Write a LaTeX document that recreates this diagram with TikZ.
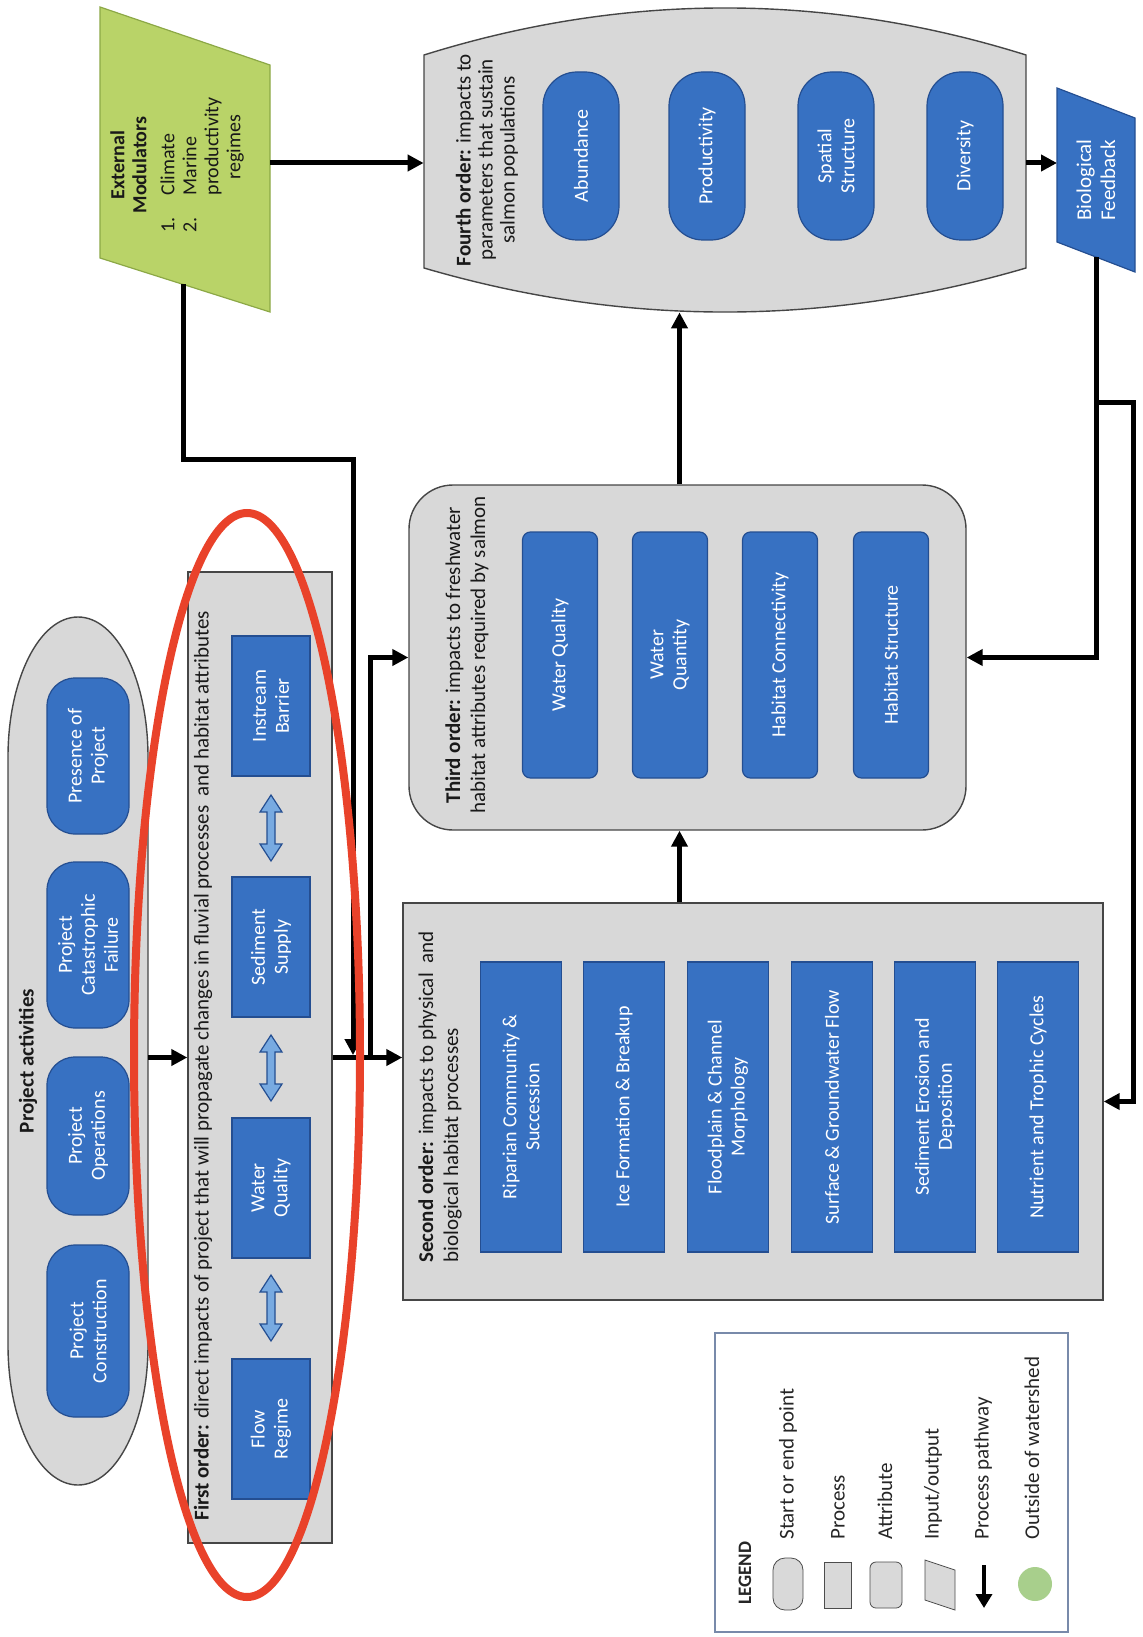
\documentclass[tikz,border=0pt]{standalone}
\usepackage{fontspec}
\setmainfont{Carlito}
\usetikzlibrary{arrows.meta}
\definecolor{boxblue}{RGB}{55,113,194}
\definecolor{boxedge}{RGB}{36,78,145}
\definecolor{contfill}{RGB}{216,216,216}
\definecolor{contedge}{RGB}{70,70,70}
\definecolor{emgreen}{RGB}{185,211,104}
\definecolor{emedge}{RGB}{140,168,70}
\definecolor{redmark}{RGB}{233,66,42}
\definecolor{dblfill}{RGB}{120,170,225}
\definecolor{legedge}{RGB}{120,138,170}
\definecolor{lgreen}{RGB}{168,207,140}
\newcommand\lbl{\fontsize{10}{11.5}\selectfont}
\newcommand\ttl{\fontsize{10.5}{12.5}\selectfont}
\begin{document}
\begin{tikzpicture}[x=0.5pt,y=-0.5pt,
  container/.style={draw=contedge, line width=0.7pt, fill=contfill},
  bluebase/.style={draw=boxedge, line width=0.6pt, fill=boxblue, text=white, rotate=90, align=center, font=\lbl, inner sep=1pt},
  procbox/.style={bluebase},
  startbox/.style={bluebase, rounded corners=14pt},
  attrbox/.style={bluebase, rounded corners=4pt},
  conn/.style={line width=2.5pt, draw=black, -{Triangle[length=8pt,width=8pt]}},
  ttlnode/.style={rotate=90, font=\ttl, inner sep=0pt, text=black!90},
  legtext/.style={rotate=90, font=\fontsize{10.5}{12}\selectfont, inner sep=0pt, anchor=west, text=black!85},
  dblarr/.pic={\draw[draw=boxedge, fill=dblfill, line width=0.6pt] (0,-33) -- (11,-16) -- (4,-16) -- (4,16) -- (11,16) -- (0,33) -- (-11,16) -- (-4,16) -- (-4,-16) -- (-11,-16) -- cycle;}
]
\useasboundingbox (0,0) rectangle (1142,1637);

% ---------- Project activities
\draw[container] (8,757) -- (8,1345) .. controls (8,1422) and (39,1485) .. (78,1485) .. controls (117,1485) and (148,1422) .. (148,1345) -- (148,757) .. controls (148,680) and (117,617) .. (78,617) .. controls (39,617) and (8,680) .. (8,757) -- cycle;
\node[minimum width=70pt, minimum height=434pt, inner sep=0pt] (pa) at (78,1051) {};
\node[ttlnode, font=\ttl\bfseries] (patitle) at (28,1061) {Project activities};
\node[startbox, minimum width=78pt, minimum height=41pt] (p1) at (88,756) {Presence of\\Project};
\node[startbox, minimum width=83pt, minimum height=41pt] (p2) at (88,945) {Project\\Catastrophic\\Failure};
\node[startbox, minimum width=79pt, minimum height=41pt] (p3) at (88,1136) {Project\\Operations};
\node[startbox, minimum width=86pt, minimum height=41pt] (p4) at (88,1331) {Project\\Construction};

% ---------- First order
\node[container, minimum width=72pt, minimum height=485.5pt] (fo) at (260,1057.5) {};
\node[ttlnode, anchor=west] (fotitle) at (203,1521) {\textbf{First order:} direct impacts of project that will propagate changes in fluvial processes\ \ and habitat attributes};
\node[procbox, minimum width=70pt, minimum height=39pt] (f1) at (271,706) {Instream\\Barrier};
\node[procbox, minimum width=70pt, minimum height=39pt] (f2) at (271,947) {Sediment\\Supply};
\node[procbox, minimum width=70pt, minimum height=39pt] (f3) at (271,1188) {Water\\Quality};
\node[procbox, minimum width=70pt, minimum height=39pt] (f4) at (271,1429) {Flow\\Regime};
\pic at (271,828) {dblarr};
\pic at (271,1068) {dblarr};
\pic at (271,1308) {dblarr};

% ---------- External modulators
\draw[draw=emedge, line width=0.6pt, fill=emgreen] (100,7) -- (270,65) -- (270,312) -- (100,258) -- cycle;
\node[rotate=90, font=\fontsize{10}{11}\selectfont, inner sep=0pt, text=black!90] (em) at (178,165) {\begin{tabular}{@{}r@{\hspace{11pt}}l@{}}\multicolumn{2}{@{}c@{}}{\bfseries External}\\ \multicolumn{2}{@{}c@{}}{\bfseries Modulators}\\[3pt] 1. & Climate\\ 2. & Marine\\ & productivity\\ & \hspace{8pt}regimes\end{tabular}};
\coordinate (emR) at (270,163);
\coordinate (emB) at (183,284);
\coordinate (bend) at (353,459);

% ---------- Fourth order
\draw[container] (424,55) .. controls (624,-7.7) and (826,-7.7) .. (1026,55) -- (1026,268) .. controls (826,326.7) and (624,326.7) .. (424,268) -- cycle;
\node[minimum width=301pt, minimum height=152pt, inner sep=0pt] (fourth) at (725,160) {};
\node[ttlnode, align=center, font=\fontsize{10.5}{11}\selectfont] (t4) at (487,160) {\textbf{Fourth order:} impacts to\\parameters that sustain\\salmon populations};
\node[startbox, rounded corners=17pt, minimum width=84pt, minimum height=38pt] (q1) at (581,156) {Abundance};
\node[startbox, rounded corners=17pt, minimum width=84pt, minimum height=38pt] (q2) at (707,156) {Productivity};
\node[startbox, rounded corners=17pt, minimum width=84pt, minimum height=38pt] (q3) at (836,156) {Spatial\\Structure};
\node[startbox, rounded corners=17pt, minimum width=84pt, minimum height=38pt] (q4) at (965,156) {Diversity};

% ---------- Biological feedback
\draw[draw=boxedge, line width=0.6pt, fill=boxblue] (1057,88) -- (1135,118) -- (1135,272) -- (1057,242) -- cycle;
\node[rotate=90, font=\fontsize{10.5}{12}\selectfont, text=white, align=center, inner sep=0pt] (bf) at (1096,180) {Biological\\Feedback};
\coordinate (bfL) at (1057,163);
\coordinate (bfB) at (1096,257);
\coordinate (fb) at (1096,402);
\coordinate (fbR) at (1133,402);

% ---------- Third order
\node[container, rounded corners=22pt, minimum width=278.5pt, minimum height=172.5pt] (third) at (687.5,657.5) {};
\node[ttlnode, align=center] (t3) at (467,655) {\textbf{Third order:} impacts to freshwater\\habitat attributes required by salmon};
\node[attrbox, minimum width=123pt, minimum height=37.5pt] (a1) at (560,655) {Water Quality};
\node[attrbox, minimum width=123pt, minimum height=37.5pt] (a2) at (670,655) {Water\\Quantity};
\node[attrbox, minimum width=123pt, minimum height=37.5pt] (a3) at (780,655) {Habitat Connectivity};
\node[attrbox, minimum width=123pt, minimum height=37.5pt] (a4) at (891,655) {Habitat Structure};

% ---------- Second order
\node[container, minimum width=350pt, minimum height=198.5pt] (second) at (753,1101.5) {};
\node[ttlnode, anchor=west, align=left] (t2) at (440,1263) {\textbf{Second order:} impacts to physical\ \ and\\biological habitat processes};
\node[procbox, minimum width=145pt, minimum height=40.5pt] (s1) at (521,1107) {Riparian Community \&\\Succession};
\node[procbox, minimum width=145pt, minimum height=40.5pt] (s2) at (624,1107) {Ice Formation \& Breakup};
\node[procbox, minimum width=145pt, minimum height=40.5pt] (s3) at (728,1107) {Floodplain \& Channel\\Morphology};
\node[procbox, minimum width=145pt, minimum height=40.5pt] (s4) at (832,1107) {Surface \& Groundwater Flow};
\node[procbox, minimum width=145pt, minimum height=40.5pt] (s5) at (935,1107) {Sediment Erosion and\\Deposition};
\node[procbox, minimum width=145pt, minimum height=40.5pt] (s6) at (1038,1107) {Nutrient and Trophic Cycles};

% ---------- Legend
\node[draw=legedge, line width=0.8pt, fill=white, minimum width=176.5pt, minimum height=149.5pt, inner sep=0pt] (legend) at (891.5,1482.5) {};
\node[legtext, anchor=center, font=\fontsize{9.5}{11}\selectfont\bfseries] (legtitle) at (745,1573) {LEGEND};
\node[draw=black!70, fill=black!15, rounded corners=6pt, minimum width=15pt, minimum height=26pt, inner sep=0pt] (ls1) at (788,1584) {};
\node[draw=black!70, fill=black!15, minimum width=13.5pt, minimum height=23pt, inner sep=0pt] (ls2) at (838,1585) {};
\node[draw=black!70, fill=black!15, rounded corners=3pt, minimum width=16pt, minimum height=23pt, inner sep=0pt] (ls3) at (886,1585) {};
\draw[draw=black!70, fill=black!15] (925,1560) -- (955,1570) -- (955,1610) -- (925,1600) -- cycle;
\coordinate (la1) at (984,1565);
\coordinate (la2) at (984,1608);
\draw[line width=2.2pt, -{Triangle[length=7pt,width=8pt]}] (la1) -- (la2);
\node[circle, fill=lgreen, minimum size=17pt, inner sep=0pt] (ls6) at (1035,1584) {};
\node[legtext] (lt1) at (788,1540) {Start or end point};
\node[legtext] (lt2) at (838,1540) {Process};
\node[legtext] (lt3) at (885,1540) {Attribute};
\node[legtext] (lt4) at (933,1540) {Input/output};
\node[legtext] (lt5) at (983,1540) {Process pathway};
\node[legtext] (lt6) at (1032,1540) {Outside of watershed};

% ---------- Connectors
\coordinate (split) at ([xshift=19pt]fo.east);
\draw[conn] (pa.east |- fo.center) -- (fo.west);
\draw[conn] (fo.east) -- (second.west |- fo.east);
\draw[conn] (split) |- (third.west);
\draw[conn, shorten >=1.2pt] (emB) |- (bend) -- (bend |- fo.east);
\draw[conn] (emR) -- (fourth.west |- emR);
\draw[conn] ([xshift=-4pt]third.south |- second.north) -- ([xshift=-4pt]third.south);
\draw[conn] ([xshift=-4pt]third.north) -- ([xshift=-4pt]third.north |- fourth.south);
\draw[conn] (fourth.east |- bfL) -- (bfL);
\draw[conn] (bfB) |- (third.east);
\draw[conn] (fb) -- (fbR) |- (second.east);

% ---------- Red mark
\draw[draw=redmark, line width=4pt] (247,1055) ellipse [x radius=56.5pt, y radius=271pt];
\end{tikzpicture}
\end{document}
